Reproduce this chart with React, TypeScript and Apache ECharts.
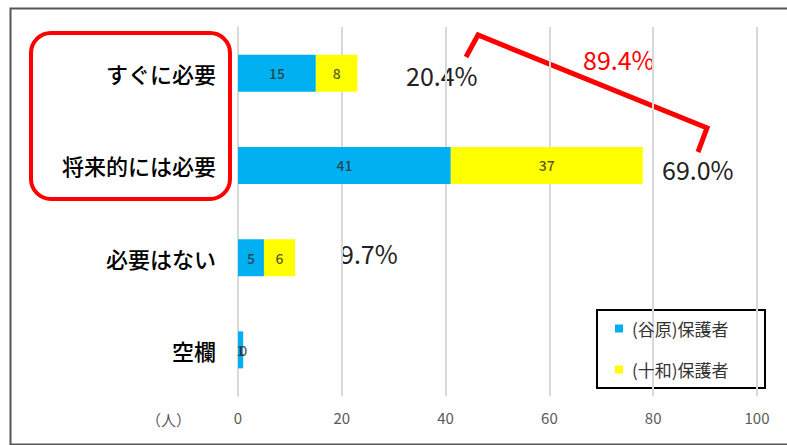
import React, { useEffect, useRef } from "react";
import * as echarts from "echarts";

const categories = ["すぐに必要", "将来的には必要", "必要はない", "空欄"];
const seriesNames = ["(谷原)保護者", "(十和)保護者"];
const taniharaValues = [15, 41, 5, 1];
const towaValues = [8, 37, 6, 0];
const percentLabels = ["20.4%", "69.0%", "9.7%"];
const combinedLabel = "89.4%";
const xTicks = [0, 20, 40, 60, 80, 100];
const unitLabel = "（人）";

const FONT = '"Noto Sans CJK JP", "Noto Sans", sans-serif';

export default function App() {
  const ref = useRef<HTMLDivElement>(null);
  useEffect(() => {
    if (!ref.current) return;
    const chart = echarts.init(ref.current, undefined, { renderer: "svg" });
    const labelStyle = {
      show: true,
      position: "inside" as const,
      color: "rgba(45,45,45,0.8)",
      fontSize: 14,
      fontWeight: 500,
      fontFamily: FONT,
    };
    const pct = (text: string, x: number, y: number, color = "#222") => ({
      type: "text",
      x,
      y,
      style: { text, fill: color, fontSize: 25, fontFamily: FONT, textVerticalAlign: "middle" },
    });
    chart.setOption({
      animation: false,
      backgroundColor: "#ffffff",
      textStyle: { fontFamily: FONT },
      grid: { left: 238, right: 30, top: 27, bottom: 49, containLabel: false },
      xAxis: {
        type: "value",
        min: xTicks[0],
        max: xTicks[xTicks.length - 1],
        interval: 20,
        axisLine: { show: false },
        axisTick: { show: false },
        axisLabel: { color: "#595959", fontSize: 15, margin: 14, fontFamily: FONT },
        splitLine: { show: true, lineStyle: { color: "#d9d9d9", width: 2 } },
      },
      yAxis: {
        type: "category",
        data: categories,
        inverse: true,
        axisLine: { show: true, lineStyle: { color: "#d9d9d9", width: 2 } },
        axisTick: { show: false },
        axisLabel: { color: "#000", fontSize: 22, fontWeight: 500, margin: 22, fontFamily: FONT },
      },
      legend: {
        show: true,
        orient: "vertical",
        left: 597,
        top: 310,
        itemWidth: 8,
        itemHeight: 8,
        itemGap: 24,
        padding: [10, 16, 10, 18],
        icon: "rect",
        textStyle: { color: "#333", fontSize: 17, fontFamily: FONT, padding: [0, 0, 0, 4] },
        data: seriesNames,
      },
      series: [
        {
          name: seriesNames[0],
          type: "bar",
          stack: "total",
          barWidth: 37,
          data: taniharaValues,
          itemStyle: { color: "#00B0F0" },
          label: labelStyle,
        },
        {
          name: seriesNames[1],
          type: "bar",
          stack: "total",
          barWidth: 37,
          data: towaValues,
          itemStyle: { color: "#FFFF00" },
          label: labelStyle,
        },
      ],
      graphic: [
        {
          type: "rect",
          left: 8,
          top: 6,
          shape: { width: 778, height: 436 },
          style: { fill: "none", stroke: "#555", lineWidth: 2 },
          z: -1,
        },
        {
          type: "rect",
          shape: { x: 597, y: 310, width: 168, height: 78 },
          style: { fill: "#fff", stroke: "#000", lineWidth: 2 },
          z: -1,
        },
        {
          type: "rect",
          shape: { x: 31, y: 33, width: 199, height: 166, r: 20 },
          style: { fill: "none", stroke: "#ff0000", lineWidth: 4 },
        },
        {
          type: "polyline",
          shape: { points: [[466, 57], [478, 35], [707, 128], [698, 152]] },
          style: { fill: "none", stroke: "#ff0000", lineWidth: 5 },
        },
        pct(percentLabels[0], 406, 75),
        pct(percentLabels[1], 662, 169),
        pct(percentLabels[2], 340, 253),
        pct(combinedLabel, 583, 59, "#ff0000"),
        {
          type: "text",
          x: 146,
          y: 419,
          style: { text: unitLabel, fill: "#595959", fontSize: 15, fontFamily: FONT, textVerticalAlign: "middle" },
        },
      ],
    });
    return () => chart.dispose();
  }, []);
  return (
    <div
      ref={ref}
      style={{ position: "fixed", left: 0, top: 0, width: 787, height: 445 }}
    />
  );
}
